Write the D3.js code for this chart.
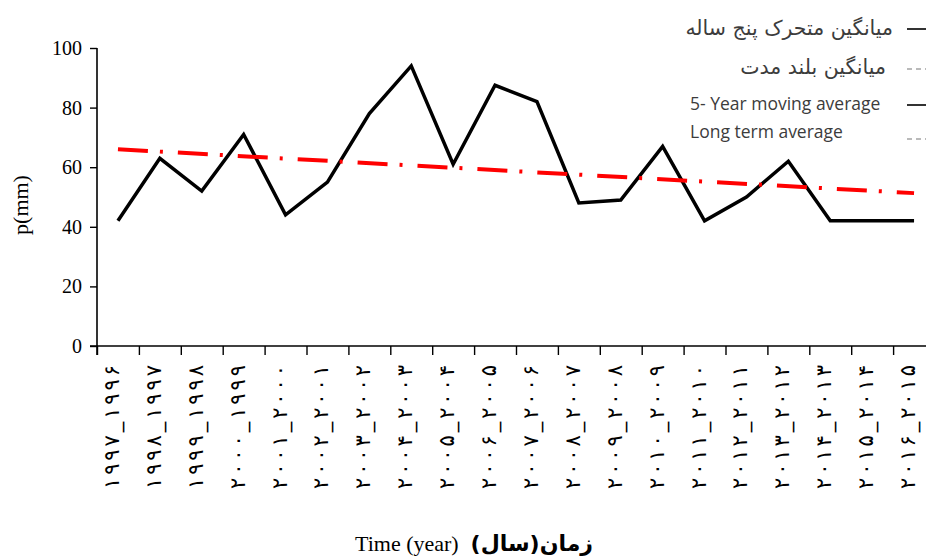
<!DOCTYPE html>
<html>
<head>
<meta charset="utf-8">
<script src="https://cdn.jsdelivr.net/npm/d3@7"></script>
<style>
  body { margin: 0; background: #fff; }
  svg { display: block; }
</style>
</head>
<body>
<svg id="chart"></svg>
<script>
const periods = [
    '۱۹۹۷_۱۹۹۶', '۱۹۹۸_۱۹۹۷', '۱۹۹۹_۱۹۹۸', '۲۰۰۰_۱۹۹۹', '۲۰۰۱_۲۰۰۰',
    '۲۰۰۲_۲۰۰۱', '۲۰۰۳_۲۰۰۲', '۲۰۰۴_۲۰۰۳', '۲۰۰۵_۲۰۰۴', '۲۰۰۶_۲۰۰۵',
    '۲۰۰۷_۲۰۰۶', '۲۰۰۸_۲۰۰۷', '۲۰۰۹_۲۰۰۸', '۲۰۱۰_۲۰۰۹', '۲۰۱۱_۲۰۱۰',
    '۲۰۱۲_۲۰۱۱', '۲۰۱۳_۲۰۱۲', '۲۰۱۴_۲۰۱۳', '۲۰۱۵_۲۰۱۴', '۲۰۱۶_۲۰۱۵'
];
const movingAvg = [42, 63, 52, 71, 44, 55, 78, 94, 61, 87.5, 82, 48, 49, 67, 42, 50, 62, 42, 42, 42];
// long term average trend, value at first and last period
const trendValues = [66, 51.3];
const yTicks = [0, 20, 40, 60, 80, 100];
const legendLabels = ['میانگین متحرک پنج ساله', 'میانگین بلند مدت', '5- Year moving average', 'Long term average'];

const WIDTH = 926, HEIGHT = 559;
const PLOT = { left: 97, right: 935, top: 48, bottom: 346 };
const SERIF = '"Liberation Serif", "Times New Roman", serif';
const LEGEND_COLOR = '#3c3c3c';

const svg = d3.select('#chart')
    .attr('width', WIDTH)
    .attr('height', HEIGHT)
    .style('font-family', SERIF);

const x = d3.scaleBand()
    .domain(periods)
    .range([PLOT.left, PLOT.right])
    .padding(0);

const edge = d3.scaleLinear()
    .domain([0, periods.length])
    .range([PLOT.left, PLOT.right]);

const y = d3.scaleLinear()
    .domain([0, 100])
    .range([PLOT.bottom, PLOT.top]);

// y axis
const yAxis = svg.append('g')
    .attr('transform', `translate(${PLOT.left},0)`)
    .call(d3.axisLeft(y).tickValues(yTicks).tickSize(7).tickSizeOuter(0).tickPadding(8));
yAxis.select('.domain').remove();
yAxis.append('line')
    .attr('x1', 0).attr('x2', 0)
    .attr('y1', PLOT.top).attr('y2', PLOT.bottom + 9)
    .attr('stroke', '#000').attr('stroke-width', 1.6);
yAxis.selectAll('.tick line').attr('stroke-width', 1.4);
yAxis.selectAll('.tick text')
    .style('font-family', SERIF)
    .style('font-size', '20px')
    .attr('fill', '#000');

// x axis (ticks at band edges)
const xAxis = svg.append('g')
    .attr('transform', `translate(0,${PLOT.bottom})`)
    .call(d3.axisBottom(edge).tickValues(d3.range(0, periods.length + 1)).tickSize(9).tickSizeOuter(0).tickFormat(''));
xAxis.select('.domain').remove();
xAxis.append('line')
    .attr('x1', PLOT.left - 7).attr('x2', PLOT.right)
    .attr('y1', 0).attr('y2', 0)
    .attr('stroke', '#000').attr('stroke-width', 1.6);
xAxis.selectAll('.tick line').attr('stroke-width', 1.4);

svg.append('g')
    .selectAll('text')
    .data(periods)
    .join('text')
    .attr('transform', d => `translate(${x(d) + x.bandwidth() / 2 + 1},365) rotate(-90)`)
    .attr('text-anchor', 'end')
    .attr('direction', 'ltr')
    .attr('textLength', 124)
    .attr('lengthAdjust', 'spacing')
    .style('font-family', '"DejaVu Sans", sans-serif')
    .style('font-size', '21px')
    .attr('fill', '#000')
    .text(d => d);

// series
const cx = d => x(d) + x.bandwidth() / 2;

svg.append('path')
    .datum(movingAvg)
    .attr('fill', 'none')
    .attr('stroke', '#000')
    .attr('stroke-width', 3.5)
    .attr('stroke-linejoin', 'miter')
    .attr('d', d3.line().x((d, i) => cx(periods[i])).y(d => y(d)));

const trendPts = [[periods[0], trendValues[0]], [periods[periods.length - 1], trendValues[1]]];
svg.append('path')
    .datum(trendPts)
    .attr('fill', 'none')
    .attr('stroke', '#ff0000')
    .attr('stroke-width', 4)
    .attr('stroke-dasharray', '30,12,3,15')
    .attr('d', d3.line().x(d => cx(d[0])).y(d => y(d[1])));

// axis titles
svg.append('text')
    .attr('transform', 'translate(28,205) rotate(-90)')
    .attr('text-anchor', 'middle')
    .style('font-size', '22px')
    .attr('fill', '#000')
    .text('p(mm)');

svg.append('text')
    .attr('x', 355).attr('y', 551)
    .style('font-size', '22px')
    .attr('fill', '#000')
    .text('Time (year)');

svg.append('text')
    .attr('x', 593).attr('y', 551)
    .attr('direction', 'rtl')
    .attr('text-anchor', 'start')
    .style('font-family', '"DejaVu Sans", sans-serif')
    .style('font-weight', 'bold')
    .style('font-size', '22px')
    .attr('fill', '#000')
    .text('زمان(سال)');

// legend
const legendRows = [
    { label: legendLabels[0], y: 28, rtl: true, right: 893, dash: null },
    { label: legendLabels[1], y: 67, rtl: true, right: 886, dash: '5,4' },
    { label: legendLabels[2], y: 104, rtl: false, left: 690, dash: null },
    { label: legendLabels[3], y: 132, rtl: false, left: 690, dash: '5,4' }
];
const legendMarkY = [29, 69, 105, 139];

const legend = svg.append('g').attr('class', 'legend');

legendRows.forEach((row, i) => {
    const t = legend.append('text')
        .attr('y', row.y)
        .attr('dy', '0.35em')
        .attr('fill', LEGEND_COLOR)
        .text(row.label);
    if (row.rtl) {
        t.attr('x', row.right)
            .attr('direction', 'rtl')
            .attr('text-anchor', 'start')
            .style('font-family', '"DejaVu Sans", sans-serif')
            .style('font-size', '20.5px');
    } else {
        t.attr('x', row.left)
            .style('font-family', '"Open Sans", sans-serif')
            .style('font-size', '17.5px');
    }
    legend.append('line')
        .attr('x1', 907).attr('x2', 926)
        .attr('y1', legendMarkY[i]).attr('y2', legendMarkY[i])
        .attr('stroke', row.dash ? '#777' : '#333')
        .attr('stroke-width', row.dash ? 1.2 : 2)
        .attr('stroke-dasharray', row.dash);
});
</script>
</body>
</html>
